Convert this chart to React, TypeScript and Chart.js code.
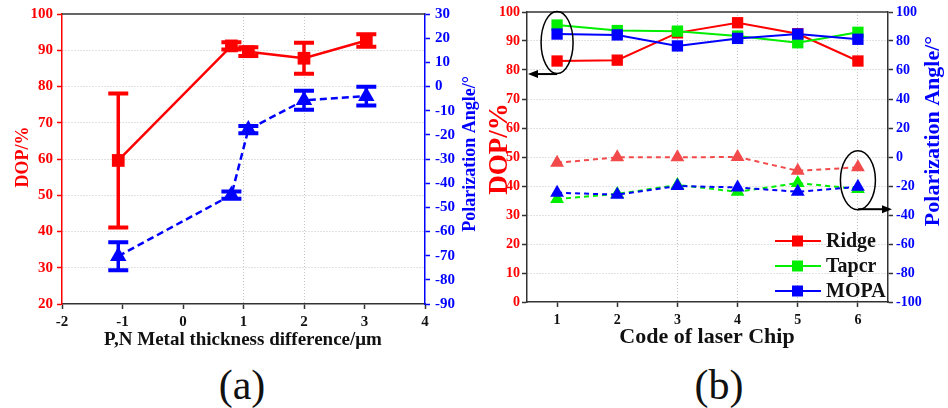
import React, { useEffect, useRef } from 'react';
import { Chart, registerables } from 'chart.js';

Chart.register(...registerables);

const FONT = '"Liberation Serif", "Times New Roman", serif';
const RED = '#ff0000';
const LIGHT_RED = '#f24a4a';
const GREEN = '#00ee00';
const BLUE = '#0000ff';
const GRID = '#c4c4c4';
const AXIS = '#333333';
const TEXT = '#111111';

// ---------- Panel (a) data ----------
const A_X = [-1.07, 0.8, 1.08, 2, 3.03];
const A_DOP = [59.6, 91.2, 89.6, 87.8, 92.7];
const A_DOP_ERR = [18.5, 1.0, 1.2, 4.3, 1.7];
const A_ANGLE = [-70.2, -44.9, -17.8, -5.7, -4.0];
const A_ANGLE_ERR = [5.8, 1.5, 1.5, 3.9, 3.9];
const A_X_TICKS = [-2, -1, 0, 1, 2, 3, 4];
const A_X_GRID = [1, 2];

// ---------- Panel (b) data ----------
const B_CHIPS = [1, 2, 3, 4, 5, 6];
const B_X_GRID = [3, 4, 5, 6];
const B_SERIES = ['Ridge', 'Tapcr', 'MOPA'];
const RIDGE_DOP = [83.1, 83.4, 92.8, 96.3, 92.5, 83.1];
const TAPER_DOP = [95.5, 93.6, 93.4, 91.7, 89.4, 93.0];
const MOPA_DOP = [92.4, 92.1, 88.3, 90.9, 92.4, 90.6];
const RIDGE_ANGLE = [-4.0, -0.2, -0.2, 0.0, -9.5, -7.1];
const TAPER_ANGLE = [-29.0, -25.5, -19.3, -24.0, -18.0, -22.0];
const MOPA_ANGLE = [-24.6, -26.0, -20.0, -21.0, -24.0, -20.5];

type TitleSpec = { text: string; x: number; y: number; rot: number; size: number; color: string };

function drawTitles(ctx: CanvasRenderingContext2D, titles: TitleSpec[]) {
  titles.forEach((t) => {
    ctx.save();
    ctx.translate(t.x, t.y);
    ctx.rotate(t.rot);
    ctx.font = `bold ${t.size}px ${FONT}`;
    ctx.fillStyle = t.color;
    ctx.textAlign = 'center';
    ctx.textBaseline = 'middle';
    ctx.fillText(t.text, 0, 0);
    ctx.restore();
  });
}

function drawTopBorder(chart: any, color: string) {
  const { ctx, chartArea } = chart;
  ctx.save();
  ctx.strokeStyle = color;
  ctx.lineWidth = 1.5;
  ctx.beginPath();
  ctx.moveTo(chartArea.left, chartArea.top);
  ctx.lineTo(chartArea.right, chartArea.top);
  ctx.stroke();
  ctx.restore();
}

function drawErrorBars(chart: any, xs: number[], ys: number[], errs: number[], axisId: string, color: string) {
  const ctx = chart.ctx as CanvasRenderingContext2D;
  const xS = chart.scales.x;
  const yS = chart.scales[axisId];
  ctx.save();
  ctx.strokeStyle = color;
  ctx.setLineDash([]);
  xs.forEach((xv, i) => {
    const px = xS.getPixelForValue(xv);
    const top = yS.getPixelForValue(ys[i] + errs[i]);
    const bot = yS.getPixelForValue(ys[i] - errs[i]);
    ctx.lineWidth = 3.5;
    ctx.beginPath();
    ctx.moveTo(px, top);
    ctx.lineTo(px, bot);
    ctx.stroke();
    ctx.lineWidth = 4;
    ctx.beginPath();
    ctx.moveTo(px - 10, top);
    ctx.lineTo(px + 10, top);
    ctx.moveTo(px - 10, bot);
    ctx.lineTo(px + 10, bot);
    ctx.stroke();
  });
  ctx.restore();
}

function arrow(ctx: CanvasRenderingContext2D, x1: number, y: number, x2: number) {
  const dir = Math.sign(x2 - x1);
  ctx.save();
  ctx.strokeStyle = '#000';
  ctx.fillStyle = '#000';
  ctx.lineWidth = 2;
  ctx.beginPath();
  ctx.moveTo(x1, y);
  ctx.lineTo(x2 - dir * 8, y);
  ctx.stroke();
  ctx.beginPath();
  ctx.moveTo(x2, y);
  ctx.lineTo(x2 - dir * 10, y - 4);
  ctx.lineTo(x2 - dir * 10, y + 4);
  ctx.closePath();
  ctx.fill();
  ctx.restore();
}

const tickFont = (size: number) => ({ family: FONT, size, weight: 'bold' as const });

function PanelA() {
  const ref = useRef<HTMLCanvasElement>(null);
  useEffect(() => {
    const titles: TitleSpec[] = [
      { text: 'DOP/%', x: 23, y: 157, rot: -Math.PI / 2, size: 18, color: RED },
      { text: 'Polarization Angle/°', x: 470, y: 154, rot: -Math.PI / 2, size: 18, color: BLUE },
      { text: 'P,N Metal thickness difference/μm', x: 243, y: 340, rot: 0, size: 19, color: TEXT },
    ];
    const plugin = {
      id: 'panelA',
      beforeDatasetsDraw(chart: any) {
        drawErrorBars(chart, A_X, A_DOP, A_DOP_ERR, 'y', RED);
        drawErrorBars(chart, A_X, A_ANGLE, A_ANGLE_ERR, 'y2', BLUE);
      },
      afterDraw(chart: any) {
        drawTopBorder(chart, AXIS);
        drawTitles(chart.ctx, titles);
      },
    };
    const chart = new Chart(ref.current!, {
      type: 'line',
      data: {
        datasets: [
          {
            label: 'DOP',
            data: A_X.map((x, i) => ({ x, y: A_DOP[i] })),
            yAxisID: 'y',
            borderColor: RED,
            backgroundColor: RED,
            borderWidth: 2.5,
            pointStyle: 'rect',
            pointRadius: 9,
            pointBorderWidth: 0,
          },
          {
            label: 'Angle',
            data: A_X.map((x, i) => ({ x, y: A_ANGLE[i] })),
            yAxisID: 'y2',
            borderColor: BLUE,
            backgroundColor: BLUE,
            borderWidth: 2.5,
            borderDash: [7, 4],
            pointStyle: 'triangle',
            pointRadius: 9.5,
            pointBorderWidth: 0,
          },
        ],
      },
      options: {
        responsive: false,
        animation: false,
        devicePixelRatio: 1,
        events: [],
        layout: { padding: { top: 12, left: 0, right: 0, bottom: 0 } },
        plugins: { legend: { display: false }, tooltip: { enabled: false } },
        scales: {
          x: {
            type: 'linear',
            min: -2,
            max: 4,
            afterBuildTicks: (s: any) => { s.ticks = A_X_TICKS.map((v) => ({ value: v })); },
            afterFit: (s: any) => { s.height = 56; },
            grid: {
              color: (c: any) => (c.tick && A_X_GRID.includes(c.tick.value) ? GRID : 'rgba(0,0,0,0)'),
              lineWidth: 1,
              tickColor: AXIS,
              tickLength: 5,
              tickWidth: 1.5,
              tickBorderDash: [],
            },
            border: { color: AXIS, width: 1.5, dash: [1, 2] },
            ticks: { color: TEXT, font: tickFont(15), padding: 4 },
          },
          y: {
            position: 'left',
            min: 20,
            max: 100,
            afterFit: (s: any) => { s.width = 62; },
            grid: {
              color: (c: any) => (c.tick && (c.tick.value === 20 || c.tick.value === 100) ? 'rgba(0,0,0,0)' : GRID),
              lineWidth: 1,
              tickColor: RED,
              tickLength: 5,
              tickWidth: 1.5,
              tickBorderDash: [],
            },
            border: { color: RED, width: 1.5, dash: [1, 2] },
            ticks: { stepSize: 10, color: RED, font: tickFont(15), padding: 4 },
          },
          y2: {
            position: 'right',
            min: -90,
            max: 30,
            afterFit: (s: any) => { s.width = 57; },
            grid: {
              drawOnChartArea: false,
              tickColor: BLUE,
              tickLength: 5,
              tickWidth: 1.5,
              tickBorderDash: [],
            },
            border: { color: BLUE, width: 1.5 },
            ticks: { stepSize: 10, color: BLUE, font: tickFont(15), padding: 5 },
          },
        },
      } as any,
      plugins: [plugin],
    });
    return () => chart.destroy();
  }, []);
  return (
    <canvas
      ref={ref}
      width={482}
      height={360}
      style={{ position: 'absolute', left: 0, top: 0, width: 482, height: 360 }}
    />
  );
}

function PanelB() {
  const ref = useRef<HTMLCanvasElement>(null);
  useEffect(() => {
    const titles: TitleSpec[] = [
      { text: 'DOP/%', x: 18, y: 149, rot: -Math.PI / 2, size: 27, color: RED },
      { text: 'Polarization Angle/°', x: 451, y: 131, rot: -Math.PI / 2, size: 22, color: BLUE },
      { text: 'Code of laser Chip', x: 225, y: 337, rot: 0, size: 22, color: TEXT },
    ];
    const colors = [RED, GREEN, BLUE];
    const plugin = {
      id: 'panelB',
      afterDraw(chart: any) {
        const ctx = chart.ctx as CanvasRenderingContext2D;
        const { chartArea } = chart;
        const xS = chart.scales.x;
        const yS = chart.scales.y;
        const y2S = chart.scales.y2;
        drawTopBorder(chart, AXIS);
        // annotation ellipses + arrows
        ctx.save();
        ctx.strokeStyle = '#000';
        ctx.lineWidth = 1.5;
        ctx.beginPath();
        ctx.ellipse(xS.getPixelForValue(1), yS.getPixelForValue(89.5), 16, 31, 0, 0, Math.PI * 2);
        ctx.stroke();
        ctx.beginPath();
        ctx.ellipse(xS.getPixelForValue(6), y2S.getPixelForValue(-16), 17.5, 29.5, 0, 0, Math.PI * 2);
        ctx.stroke();
        ctx.restore();
        arrow(ctx, xS.getPixelForValue(1), yS.getPixelForValue(78.6), chartArea.left + 1);
        arrow(ctx, xS.getPixelForValue(6), y2S.getPixelForValue(-36), chartArea.right + 4);
        // legend
        const rows = [chartArea.bottom - 61, chartArea.bottom - 36, chartArea.bottom - 11];
        B_SERIES.forEach((name, i) => {
          const y = rows[i];
          ctx.save();
          ctx.strokeStyle = colors[i];
          ctx.fillStyle = colors[i];
          ctx.lineWidth = 2;
          ctx.beginPath();
          ctx.moveTo(chartArea.right - 113, y);
          ctx.lineTo(chartArea.right - 67, y);
          ctx.stroke();
          ctx.fillRect(chartArea.right - 96, y - 5.5, 11, 11);
          ctx.fillStyle = TEXT;
          ctx.font = `bold 20px ${FONT}`;
          ctx.textAlign = 'left';
          ctx.textBaseline = 'middle';
          ctx.fillText(name, chartArea.right - 62, y + 1);
          ctx.restore();
        });
        drawTitles(ctx, titles);
      },
    };
    const sq = (label: string, vals: number[], color: string, order: number) => ({
      label,
      data: B_CHIPS.map((x, i) => ({ x, y: vals[i] })),
      yAxisID: 'y',
      borderColor: color,
      backgroundColor: color,
      borderWidth: 2,
      pointStyle: 'rect',
      pointRadius: 8,
      pointBorderWidth: 0,
      order,
    });
    const tri = (label: string, vals: number[], color: string, order: number) => ({
      label,
      data: B_CHIPS.map((x, i) => ({ x, y: vals[i] })),
      yAxisID: 'y2',
      borderColor: color,
      backgroundColor: color,
      borderWidth: 2,
      borderDash: [5, 4],
      pointStyle: 'triangle',
      pointRadius: 8,
      pointBorderWidth: 0,
      order,
    });
    const chart = new Chart(ref.current!, {
      type: 'line',
      data: {
        datasets: [
          sq('Ridge', RIDGE_DOP, RED, 3),
          sq('Tapcr', TAPER_DOP, GREEN, 2),
          sq('MOPA', MOPA_DOP, BLUE, 1),
          tri('Ridge angle', RIDGE_ANGLE, LIGHT_RED, 3),
          tri('Tapcr angle', TAPER_ANGLE, GREEN, 2),
          tri('MOPA angle', MOPA_ANGLE, BLUE, 1),
        ],
      },
      options: {
        responsive: false,
        animation: false,
        devicePixelRatio: 1,
        events: [],
        layout: { padding: { top: 12, left: 0, right: 0, bottom: 0 } },
        plugins: { legend: { display: false }, tooltip: { enabled: false } },
        scales: {
          x: {
            type: 'linear',
            min: 0.5,
            max: 6.5,
            afterBuildTicks: (s: any) => { s.ticks = B_CHIPS.map((v) => ({ value: v })); },
            afterFit: (s: any) => { s.height = 58; },
            grid: {
              color: (c: any) => (c.tick && B_X_GRID.includes(c.tick.value) ? GRID : 'rgba(0,0,0,0)'),
              lineWidth: 1,
              tickColor: AXIS,
              tickLength: 5,
              tickWidth: 1.5,
              tickBorderDash: [],
            },
            border: { color: AXIS, width: 1.5, dash: [1, 2] },
            ticks: { color: TEXT, font: tickFont(14), padding: 5 },
          },
          y: {
            position: 'left',
            min: 0,
            max: 100,
            afterFit: (s: any) => { s.width = 45; },
            grid: {
              color: (c: any) => (c.tick && (c.tick.value === 0 || c.tick.value === 100) ? 'rgba(0,0,0,0)' : GRID),
              lineWidth: 1,
              tickColor: AXIS,
              tickLength: 5,
              tickWidth: 1.5,
              tickBorderDash: [],
            },
            border: { color: AXIS, width: 1.5, dash: [1, 2] },
            ticks: { stepSize: 10, color: RED, font: tickFont(14), padding: 2 },
          },
          y2: {
            position: 'right',
            min: -100,
            max: 100,
            afterFit: (s: any) => { s.width = 60; },
            grid: {
              drawOnChartArea: false,
              tickColor: AXIS,
              tickLength: 5,
              tickWidth: 1.5,
              tickBorderDash: [],
            },
            border: { color: AXIS, width: 1.5 },
            ticks: { stepSize: 20, color: BLUE, font: tickFont(14), padding: 3 },
          },
        },
      } as any,
      plugins: [plugin],
    });
    return () => chart.destroy();
  }, []);
  return (
    <canvas
      ref={ref}
      width={466}
      height={360}
      style={{ position: 'absolute', left: 482, top: 0, width: 466, height: 360 }}
    />
  );
}

const captionStyle = (left: number): React.CSSProperties => ({
  position: 'absolute',
  left,
  top: 364,
  width: 200,
  textAlign: 'center',
  fontFamily: FONT,
  fontSize: 42,
  lineHeight: '42px',
  color: TEXT,
});

export default function App() {
  return (
    <div
      style={{
        position: 'absolute',
        left: 0,
        top: 0,
        width: 948,
        height: 408,
        background: '#ffffff',
        overflow: 'hidden',
      }}
    >
      <PanelA />
      <PanelB />
      <div style={captionStyle(142)}>(a)</div>
      <div style={captionStyle(619)}>(b)</div>
    </div>
  );
}
